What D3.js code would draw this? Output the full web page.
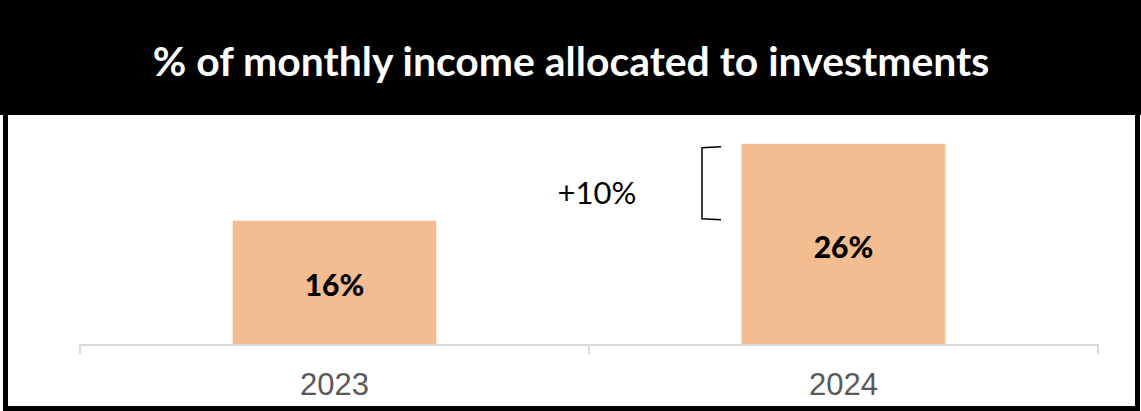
<!DOCTYPE html>
<html>
<head>
<meta charset="utf-8">
<script src="https://cdn.jsdelivr.net/npm/d3@7"></script>
<style>
    body { margin: 0; background: #fff; }
    svg { display: block; }
</style>
</head>
<body>
<div id="chart"></div>
<script>
"use strict"

// chart data
const title = "% of monthly income allocated to investments"
const years = ["2023", "2024"]
const shares = [16, 26]
const diffLabel = "+10%"

const W = 1141, H = 411
const PLOT = { left: 80, right: 1098, top: 113, bottom: 344 }

const svg = d3.select("#chart").append("svg")
    .attr("width", W).attr("height", H)

// frame and title band
svg.append("rect").attr("x", 0).attr("y", 0).attr("width", W).attr("height", 115)
    .attr("fill", "#000")
svg.append("rect").attr("x", 5.5).attr("y", 2).attr("width", W - 9).attr("height", H - 4.5)
    .attr("fill", "none").attr("stroke", "#000").attr("stroke-width", 5)

let titleText = svg.append("text")
    .attr("x", 571).attr("y", 60)
    .attr("text-anchor", "middle").attr("dominant-baseline", "central")
    .attr("fill", "#fff").attr("font-family", "Lato, 'DejaVu Sans', sans-serif")
    .attr("font-weight", "bold").attr("font-size", 36)
    .text(title)
// fit title to the width of the original
let tw = titleText.node().getComputedTextLength()
titleText.attr("font-size", 36 * 837 / tw)

// scales
const x = d3.scaleBand().domain(years)
    .range([PLOT.left, PLOT.right]).paddingInner(0.6).paddingOuter(0.3)
const y = d3.scaleLinear().domain([0, 30]).range([PLOT.bottom, PLOT.top])

const data = years.map((yr, i) => ({ year: yr, value: shares[i] }))

// bars
svg.append("g").selectAll("rect").data(data).join("rect")
    .attr("x", d => x(d.year)).attr("width", x.bandwidth())
    .attr("y", d => y(d.value)).attr("height", d => y(0) - y(d.value))
    .attr("fill", "#f4bc91")

// value labels
svg.append("g").selectAll("text").data(data).join("text")
    .attr("x", d => x(d.year) + x.bandwidth() / 2)
    .attr("y", d => (y(d.value) + y(0)) / 2 + 2)
    .attr("text-anchor", "middle").attr("dominant-baseline", "central")
    .attr("font-family", "Lato, 'DejaVu Sans', sans-serif")
    .attr("font-weight", 900).attr("font-size", 30)
    .attr("fill", "#000")
    .text(d => d.value + "%")

// axis with category ticks at band edges
const axisG = svg.append("g")
const edges = [PLOT.left, PLOT.left + (PLOT.right - PLOT.left) / 2, PLOT.right]
axisG.append("line").attr("x1", PLOT.left).attr("x2", PLOT.right)
    .attr("y1", y(0) + 1).attr("y2", y(0) + 1)
    .attr("stroke", "#d9d9d9").attr("stroke-width", 2)
axisG.selectAll(".tick").data(edges).join("line")
    .attr("x1", d => d).attr("x2", d => d)
    .attr("y1", y(0)).attr("y2", y(0) + 10)
    .attr("stroke", "#d9d9d9").attr("stroke-width", 2)
axisG.selectAll("text").data(years).join("text")
    .attr("x", d => x(d) + x.bandwidth() / 2)
    .attr("y", 384)
    .attr("text-anchor", "middle").attr("dominant-baseline", "central")
    .attr("font-family", "'Liberation Sans', Arial, sans-serif")
    .attr("font-size", 31).attr("fill", "#595959")
    .text(d => d)

// difference bracket
const bx = 702, bTick = 19
const yHi = y(shares[1]) + 3, yLo = y(shares[0]) - 1
svg.append("path")
    .attr("d", `M${bx + bTick},${yHi} L${bx},${yHi + 1} L${bx},${yLo - 1} L${bx + bTick},${yLo}`)
    .attr("fill", "none").attr("stroke", "#000").attr("stroke-width", 1.5)
svg.append("text")
    .attr("x", 597).attr("y", 192)
    .attr("text-anchor", "middle").attr("dominant-baseline", "central")
    .attr("font-family", "Lato, 'DejaVu Sans', sans-serif")
    .attr("font-size", 31).attr("fill", "#000")
    .text(diffLabel)
</script>
</body>
</html>
